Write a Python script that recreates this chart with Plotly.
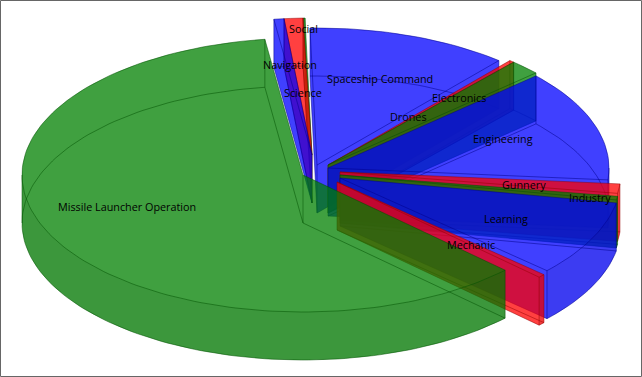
import numpy as np
import plotly.graph_objects as go

# Data, clockwise from the top of the pie
categories = ["Navigation", "Science", "Social", "Spaceship Command", "Drones", "Electronics",
              "Engineering", "Gunnery", "Industry", "Learning", "Mechanic", "Missile Launcher Operation"]
values = [0.58, 1.08, 0.11, 11.6, 0.28, 1.78, 13.12, 1.11, 0.42, 8.91, 0.40, 60.61]
hues = ["blue", "red", "green", "blue", "red", "green", "blue", "red", "green", "blue", "red", "green"]

# Layout of the 3D look
W, H = 642, 377
CX, CY, A, B, DEPTH = 303, 175, 281, 137, 48
START = 97.8
paint_order = [2, 1, 0, 3, 4, 5, 6, 7, 8, 9, 10, 11]
explode = [(9, -20), (9, -20), (9, -20), (14, -10), (25, -10), (25, -10),
           (25, -7), (37, -3), (37, 0), (37, 3), (34, 7), (0, 0)]
label_xy = [(290, 64), (303, 92), (303, 28), (380, 78), (408, 116), (459, 97),
            (503, 138), (524, 184), (590, 197), (506, 218), (471, 244), (127, 206)]
fills = {"blue": "rgba(0,0,255,0.75)", "red": "rgba(255,0,0,0.75)", "green": "rgba(0,128,0,0.75)"}
lines = {"blue": "rgba(0,0,140,0.5)", "red": "rgba(150,0,0,0.5)", "green": "rgba(0,80,0,0.5)"}


def ccw(xs, ys):
    xs, ys = list(xs), list(ys)
    area = sum(xs[i] * ys[(i + 1) % len(xs)] - xs[(i + 1) % len(xs)] * ys[i] for i in range(len(xs)))
    return (xs, ys) if area >= 0 else (xs[::-1], ys[::-1])


def add(px, py, bx, by):
    px, py = ccw(px, py)
    bx += px + [px[0], None]
    by += py + [py[0], None]


total = sum(values)
stops = START - np.concatenate([[0], np.cumsum(values)]) / total * 360

fig = go.Figure()
for k in paint_order:
    name, hue, (ox, oy) = categories[k], hues[k], explode[k]
    hi, lo = stops[k], stops[k + 1]
    t = np.radians(np.linspace(hi, lo, max(2, int(np.ceil((hi - lo) / 1.5)) + 1)))
    ax, ay = CX + ox, CY + oy
    ex = ax + A * np.cos(t)
    ey = ay - B * np.sin(t)
    fx, fy, wx, wy = [], [], [], []

    # silhouette pieces: two faces, the swept rim and the two swept radial edges
    add([ax] + list(ex), [ay] + list(ey), fx, fy)
    add([ax] + list(ex), [ay + DEPTH] + list(ey + DEPTH), fx, fy)
    for i in range(len(ex) - 1):
        qx = [ex[i], ex[i + 1], ex[i + 1], ex[i]]
        qy = [ey[i], ey[i + 1], ey[i + 1] + DEPTH, ey[i] + DEPTH]
        add(qx, qy, fx, fy)
        if np.sin(t[i]) < 0.0 or np.sin(t[i + 1]) < 0.0:
            add(qx, qy, wx, wy)
    for j in (0, -1):
        add([ax, ex[j], ex[j], ax], [ay, ey[j], ey[j] + DEPTH, ay + DEPTH], fx, fy)
    fig.add_trace(go.Scatter(x=fx, y=fy, mode="none", fill="toself", fillcolor=fills[hue],
                             hoverinfo="skip", showlegend=False, name=name))
    if wx:
        fig.add_trace(go.Scatter(x=wx, y=wy, mode="none", fill="toself", fillcolor="rgba(0,0,0,0.05)",
                                 hoverinfo="skip", showlegend=False))
    # edges
    lx_, ly_ = [], []
    for yy in (0, DEPTH):
        lx_ += [ax] + list(ex) + [ax, None]
        ly_ += [ay + yy] + list(ey + yy) + [ay + yy, None]
    lx_ += [ax, ax, None, ex[0], ex[0], None, ex[-1], ex[-1], None]
    ly_ += [ay, ay + DEPTH, None, ey[0], ey[0] + DEPTH, None, ey[-1], ey[-1] + DEPTH, None]
    for tang in (180, 0):
        if lo <= tang <= hi or (tang == 180 and lo < -180):
            sx = ax + A * np.cos(np.radians(tang))
            lx_ += [sx, sx, None]
            ly_ += [ay, ay + DEPTH, None]
    fig.add_trace(go.Scatter(x=lx_, y=ly_, mode="lines", line=dict(color=lines[hue], width=1),
                             hoverinfo="skip", showlegend=False))

for name, (lx, ly) in zip(categories, label_xy):
    fig.add_annotation(x=lx, y=ly, text=name, showarrow=False, xanchor="center", yanchor="middle",
                       font=dict(family="Open Sans", size=10.8, color="#000"))

fig.add_shape(type="rect", x0=0.5, y0=0.5, x1=641.5, y1=376.5, line=dict(color="#666666", width=1))
fig.update_layout(width=W, height=H, margin=dict(l=0, r=0, t=0, b=0), paper_bgcolor="white",
                  plot_bgcolor="white", showlegend=False,
                  xaxis=dict(range=[0, W], visible=False, fixedrange=True),
                  yaxis=dict(range=[H, 0], visible=False, fixedrange=True))
fig.write_html("out.html", config={"displayModeBar": False},
               post_script="document.body.style.margin='0';document.body.style.overflow='hidden';")
